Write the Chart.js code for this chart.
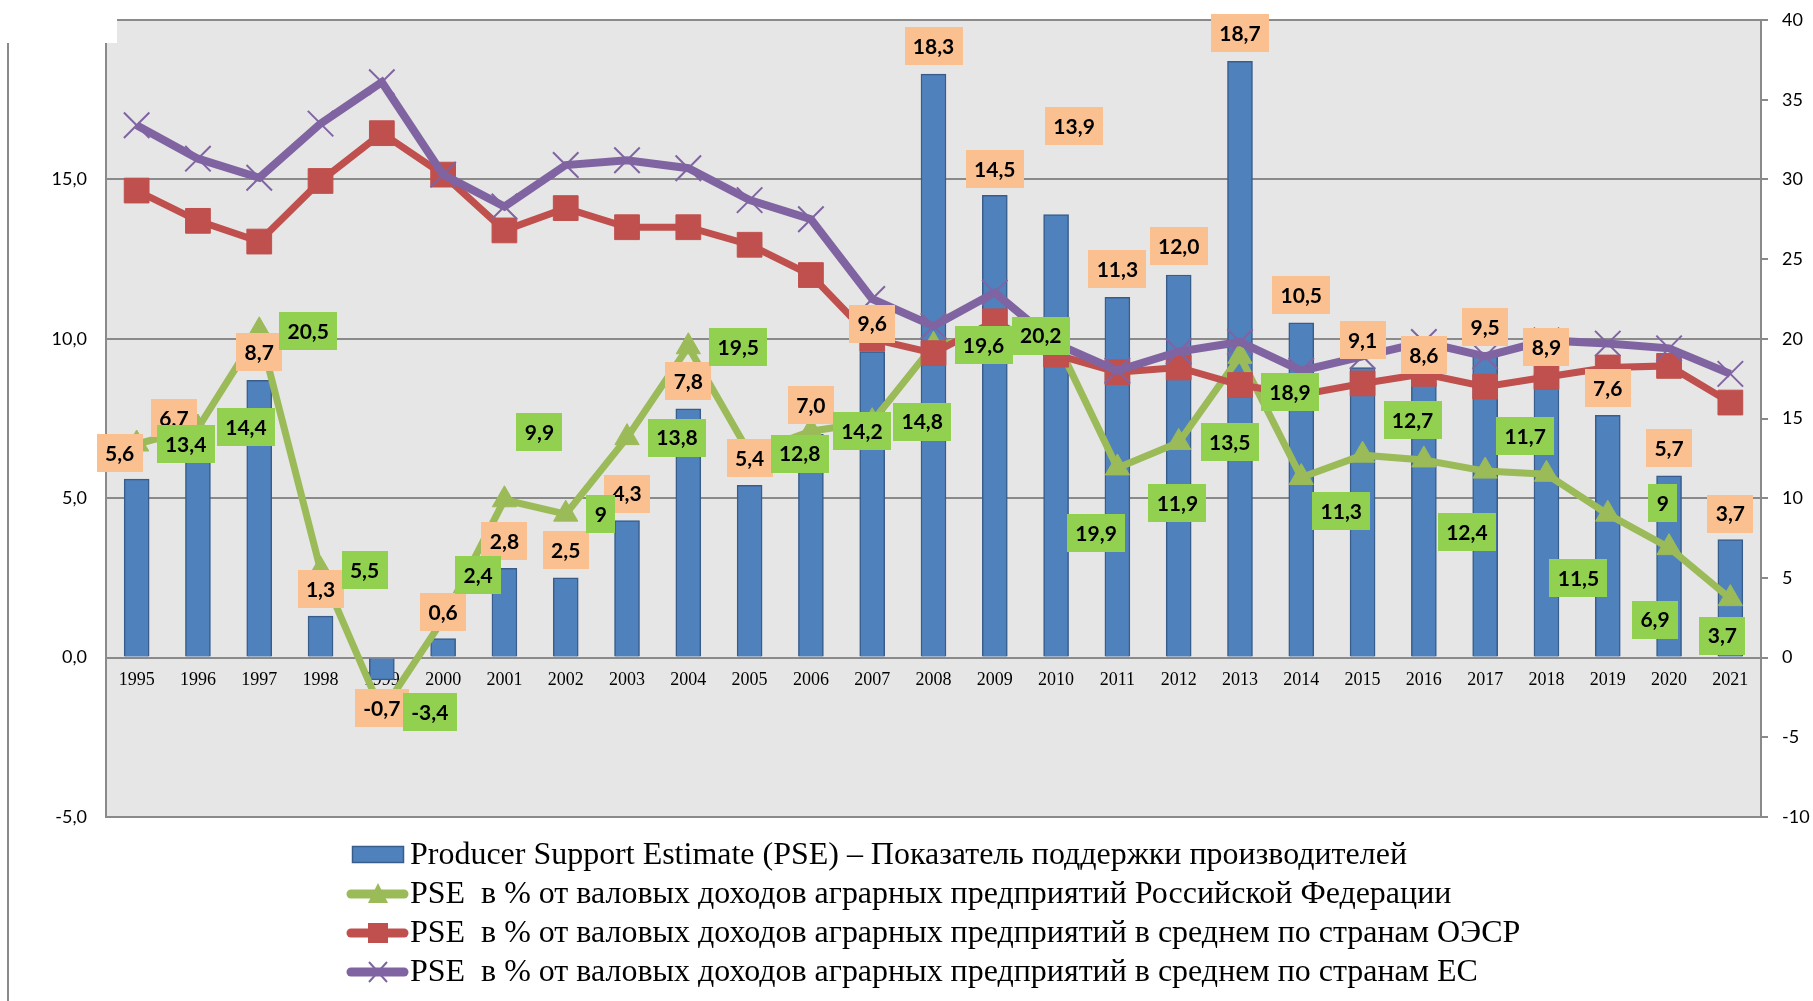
<!DOCTYPE html>
<html><head><meta charset="utf-8">
<script src="https://cdn.jsdelivr.net/npm/chart.js@4.4.0/dist/chart.umd.min.js"></script>
<style>html,body{margin:0;padding:0;background:#fff;overflow:hidden}canvas{display:block}</style>
</head><body>
<canvas id="c" width="1813" height="1001"></canvas>
<script>
// ---- data ----
const years = ['1995','1996','1997','1998','1999','2000','2001','2002','2003','2004','2005','2006','2007','2008','2009','2010','2011','2012','2013','2014','2015','2016','2017','2018','2019','2020','2021'];
const pseBillion = [5.6,6.7,8.7,1.3,-0.7,0.6,2.8,2.5,4.3,7.8,5.4,7.0,9.6,18.3,14.5,13.9,11.3,12.0,18.7,10.5,9.1,8.6,9.5,8.9,7.6,5.7,3.7];
const pseRussia = [13.4,14.4,20.5,5.5,-3.4,2.4,9.9,9,13.8,19.5,12.8,14.2,14.8,19.6,20.2,19.9,11.9,13.5,18.9,11.3,12.7,12.4,11.7,11.5,9,6.9,3.7];
const pseOECD = [29.3,27.4,26.1,29.9,32.9,30.3,26.8,28.2,27.0,27.0,25.9,24.0,20.0,19.1,21.1,19.0,17.9,18.2,17.1,16.5,17.2,17.8,17.0,17.6,18.2,18.3,16.0];
const pseEU = [33.4,31.3,30.1,33.5,36.1,30.3,28.3,30.9,31.2,30.7,28.7,27.5,22.5,20.8,22.9,19.7,18.0,19.2,19.8,18.0,18.9,19.8,18.9,19.9,19.7,19.4,17.8];
const seriesNames = [
  'Producer Support Estimate (PSE) – Показатель поддержки производителей',
  'PSE  в % от валовых доходов аграрных предприятий Российской Федерации',
  'PSE  в % от валовых доходов аграрных предприятий в среднем по странам ОЭСР',
  'PSE  в % от валовых доходов аграрных предприятий в среднем по странам ЕС'
];
// ---- label placement (styling, px offsets from the data point) ----
const barLabelDx = [-17,-24,0,0,0,0,0,0,0,0,0,0,0,0,0,18,0,0,0,0,0,0,0,0,0,0,0];
const barLabelDy = [-26,-26,-28,-27,28,-26,-27,-28,-27,-28,-27,-29,-28,-28,-26,-88,-28,-29,-28,-28,-27,-28,-28,-27,-27,-28,-26];
const greenLabelDx = [49,48,49,44,48,35,35,35,50,50,50,51,50,50,46,40,60,51,50,40,50,43,40,32,55,-14,-8];
const greenLabelDy = [0,-1,0,0,0,-44,-68,0,0,0,0,0,0,0,0,193,35,0,36,34,-35,72,-35,104,-11,72,37];

const C_BAR='#4f81bd', C_GREEN='#9bbb59', C_RED='#c0504d', C_PURPLE='#8064a2', C_GRID='#8a8a8a';

const bgPlugin = {
  id:'plotBg',
  beforeDraw(chart){
    const {ctx, chartArea:a} = chart;
    ctx.save(); ctx.fillStyle='#e6e6e6';
    ctx.fillRect(a.left, a.top, a.right-a.left, a.bottom-a.top);
    ctx.restore();
  }
};

const labelPlugin = {
  id:'boxLabels',
  afterDatasetsDraw(chart){
    const ctx=chart.ctx, xs=chart.scales.x, yl=chart.scales.y, yr=chart.scales.y1;
    ctx.save();
    ctx.font='bold 21px Lato';
    ctx.textAlign='center'; ctx.textBaseline='middle';
    const box=(cx,cy,t,bg)=>{
      const w=Math.round(ctx.measureText(t).width+17), h=38;
      ctx.fillStyle=bg;
      ctx.fillRect(Math.round(cx-w/2), Math.round(cy-h/2), w, h);
      ctx.fillStyle='#000';
      ctx.fillText(t, cx, cy+1);
    };
    pseBillion.forEach((v,i)=>box(xs.getPixelForValue(i)+barLabelDx[i], yl.getPixelForValue(v)+barLabelDy[i], v.toFixed(1).replace('.',','), '#fac090'));
    pseRussia.forEach((v,i)=>box(xs.getPixelForValue(i)+greenLabelDx[i], yr.getPixelForValue(v)+greenLabelDy[i], String(v).replace('.',','), '#92d050'));
    ctx.restore();
  }
};

const legendPlugin = {
  id:'customLegend',
  afterDraw(chart){
    const ctx=chart.ctx;
    ctx.save();
    const rows=[855,894,933,972];
    const colors=[C_BAR,C_GREEN,C_RED,C_PURPLE];
    ctx.fillStyle=C_BAR; ctx.strokeStyle='#385d8a'; ctx.lineWidth=1.5;
    ctx.fillRect(352,846,52,17); ctx.strokeRect(352.5,846.5,51,16);
    for(let k=1;k<4;k++){
      const y=rows[k];
      ctx.strokeStyle=colors[k]; ctx.lineWidth=9; ctx.lineCap='round';
      ctx.beginPath(); ctx.moveTo(351,y); ctx.lineTo(404,y); ctx.stroke();
      ctx.fillStyle=colors[k];
      if(k===1){ ctx.beginPath(); ctx.moveTo(378,y-11); ctx.lineTo(388,y+9); ctx.lineTo(368,y+9); ctx.closePath(); ctx.fill(); }
      if(k===2){ ctx.fillRect(368,y-10,20,20); }
      if(k===3){ ctx.lineWidth=2; ctx.lineCap='butt'; ctx.beginPath(); ctx.moveTo(369,y-10); ctx.lineTo(387,y+10); ctx.moveTo(387,y-10); ctx.lineTo(369,y+10); ctx.stroke(); }
    }
    ctx.fillStyle='#000'; ctx.font='31px "Liberation Serif"'; ctx.textAlign='left'; ctx.textBaseline='middle';
    const w0=ctx.measureText(seriesNames[0]).width, sx=997/w0;
    seriesNames.forEach((t,k)=>{ ctx.save(); ctx.translate(410,rows[k]+1); ctx.scale(sx,1); ctx.fillText(t,0,0); ctx.restore(); });
    // white cover at top-left and outer frame line
    ctx.fillStyle='#fff'; ctx.fillRect(0,0,117,43);
    ctx.strokeStyle=C_GRID; ctx.lineWidth=2; ctx.beginPath(); ctx.moveTo(8,43); ctx.lineTo(8,1001); ctx.stroke();
    ctx.restore();
  }
};

const noPad = s => { s.paddingTop=0; s.paddingBottom=0; s.paddingLeft=0; s.paddingRight=0; };

function build(){
  new Chart(document.getElementById('c'), {
    data:{
      labels: years,
      datasets:[
        {type:'bar', label:seriesNames[0], data:pseBillion, yAxisID:'y', order:4,
          backgroundColor:C_BAR, borderColor:'#385d8a', borderWidth:1.5, barThickness:25},
        {type:'line', label:seriesNames[1], data:pseRussia, yAxisID:'y1', order:3,
          borderColor:C_GREEN, backgroundColor:C_GREEN, borderWidth:7, tension:0,
          pointStyle:'triangle', pointRadius:14, pointBorderWidth:1, pointBackgroundColor:C_GREEN, pointBorderColor:C_GREEN},
        {type:'line', label:seriesNames[2], data:pseOECD, yAxisID:'y1', order:2,
          borderColor:C_RED, backgroundColor:C_RED, borderWidth:7, tension:0,
          pointStyle:'rect', pointRadius:17.5, pointBorderWidth:1, pointBackgroundColor:C_RED, pointBorderColor:C_RED},
        {type:'line', label:seriesNames[3], data:pseEU, yAxisID:'y1', order:1,
          borderColor:C_PURPLE, backgroundColor:C_PURPLE, borderWidth:8, tension:0,
          pointStyle:'crossRot', pointRadius:18, pointBorderWidth:2, pointBorderColor:C_PURPLE}
      ]
    },
    options:{
      responsive:false, animation:false, devicePixelRatio:1,
      layout:{padding:{top:17,bottom:184,left:0,right:0}},
      plugins:{legend:{display:false}, tooltip:{enabled:false}},
      scales:{
        x:{type:'category', position:{y:0}, offset:true,
          grid:{display:false, drawTicks:false}, border:{display:false},
          ticks:{autoSkip:false, maxRotation:0, padding:12, color:'#000', font:{family:'"Liberation Serif"', size:18}},
          afterFit:noPad},
        y:{position:'left', min:-5, max:20,
          ticks:{stepSize:5, padding:19, color:'#000', font:{family:'Lato', size:18}, callback:v=>v.toFixed(1).replace('.',',')},
          grid:{color:C_GRID, lineWidth:2, drawTicks:false}, border:{color:C_GRID, width:2},
          afterFit:s=>{s.width=106; noPad(s);}},
        y1:{position:'right', min:-10, max:40,
          ticks:{stepSize:5, padding:14, color:'#000', font:{family:'Lato', size:18}},
          grid:{drawOnChartArea:false, drawTicks:true, tickLength:7, color:C_GRID, lineWidth:2}, border:{color:C_GRID, width:2},
          afterFit:s=>{s.width=52; noPad(s);}}
      }
    },
    plugins:[bgPlugin, labelPlugin, legendPlugin]
  });
}
const fl = document.fonts ? Promise.all([document.fonts.load('bold 21px Lato'),document.fonts.load('18px Lato'),document.fonts.load('31px "Liberation Serif"')]).catch(()=>{}) : Promise.resolve();
fl.then(build, build);
</script>
</body></html>
